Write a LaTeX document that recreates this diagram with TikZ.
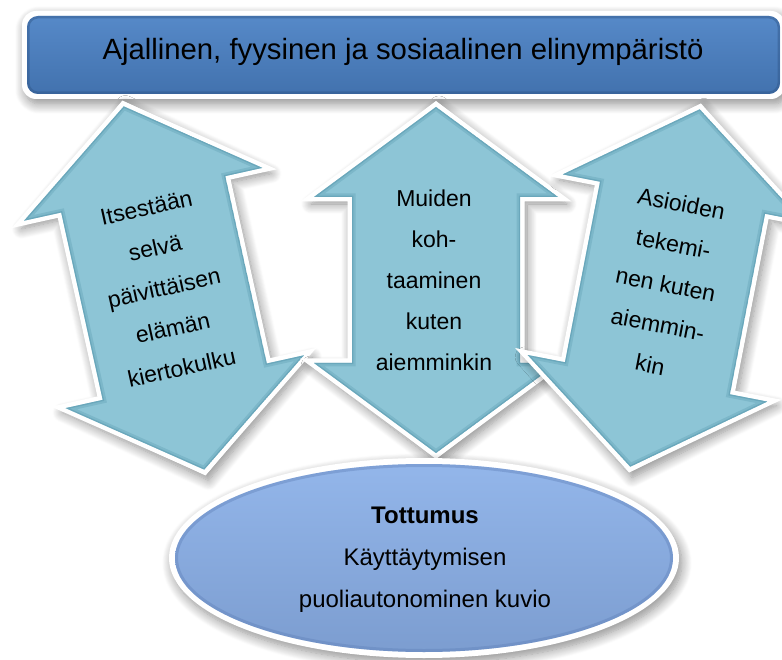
\documentclass[tikz,border=0pt]{standalone}
\usepackage{fontspec}
\setmainfont{Liberation Sans}
\usetikzlibrary{shapes.geometric,shadows.blur}

\definecolor{barfill}{HTML}{4F81BD}
\definecolor{bartop}{HTML}{5689C8}
\definecolor{barbot}{HTML}{4272AE}
\definecolor{baredge}{HTML}{2F5587}
\definecolor{arrowfill}{HTML}{8DC5D6}
\definecolor{arrowedge}{HTML}{5E9DB2}
\definecolor{ellfill}{HTML}{86A8DB}
\definecolor{elltop}{HTML}{93B6EA}
\definecolor{ellbot}{HTML}{7C9DD0}
\definecolor{elledge}{HTML}{5F80B8}

\tikzset{
  softshadow/.style={blur shadow={shadow xshift=3pt, shadow yshift=-5pt,
      shadow blur radius=10pt, shadow blur steps=12, shadow opacity=45}},
  whiteborder/.style={draw=white, line width=9pt, line join=miter},
  arrowtext/.style={font=\fontsize{23}{41}\selectfont, align=center, text=black,
      transform shape},
}

% up-down arrow outline centred on the origin: length #1, head height 90,
% head half-width 122, shaft half-width 84 (y grows downwards)
\newcommand{\updownpath}[1]{%
  (0,-#1/2) -- (122,-#1/2+90) -- (84,-#1/2+90) -- (84,#1/2-90)
  -- (122,#1/2-90) -- (0,#1/2) -- (-122,#1/2-90) -- (-84,#1/2-90)
  -- (-84,-#1/2+90) -- (-122,-#1/2+90) -- cycle}

% slightly enlarged outline, used to cast the shadow of the white rim
\newcommand{\updownrim}[1]{%
  (0,-#1/2-6) -- (128,-#1/2+92) -- (88,-#1/2+92) -- (88,#1/2-92)
  -- (128,#1/2-92) -- (0,#1/2+6) -- (-128,#1/2-92) -- (-88,#1/2-92)
  -- (-88,-#1/2+92) -- (-128,-#1/2+92) -- cycle}

% shadow, white rim, fill and bevelled inner edge of one arrow
\newcommand{\drawupdown}[1]{%
  \fill[white, softshadow] \updownrim{#1};
  \draw[whiteborder] \updownpath{#1};
  \begin{scope}
    \clip \updownpath{#1};
    \fill[arrowfill] \updownpath{#1};
    \draw[arrowedge, line width=7pt, opacity=0.35] \updownpath{#1};
    \draw[arrowedge, line width=2.5pt, opacity=0.6] \updownpath{#1};
  \end{scope}}

\begin{document}
\begin{tikzpicture}[x=1pt, y=-1pt]
  \useasboundingbox (0,0) rectangle (782,660);

  % environment bar
  \fill[white, rounded corners=14pt, softshadow] (22,11) rectangle (785,99);
  \draw[whiteborder, rounded corners=12pt] (27,16) rectangle (780,94);
  \begin{scope}
    \clip[rounded corners=11pt] (27,16) rectangle (780,94);
    \shade[top color=bartop, bottom color=barbot] (27,16) rectangle (780,94);
    \draw[baredge, line width=5pt, opacity=0.45, rounded corners=11pt] (27,16) rectangle (780,94);
  \end{scope}
  \node[font=\fontsize{29.3}{34}\selectfont, text=black] (env) at (403,52)
    {Ajallinen, fyysinen ja sosiaalinen elinympäristö};

  % left arrow
  \begin{scope}[shift={(164,288)}, rotate=12.5]
    \drawupdown{372}
    \node[arrowtext] (rhythm) at (0,0)
      {Itsestään\\selvä\\päivittäisen\\elämän\\kiertokulku};
  \end{scope}

  % middle arrow
  \begin{scope}[shift={(436,280)}]
    \drawupdown{346}
    \node[arrowtext] (meeting) at (-2,0)
      {Muiden\\koh-\\taaminen\\kuten\\aiemminkin};
  \end{scope}

  % right arrow
  \begin{scope}[shift={(665,288)}, rotate=-11]
    \drawupdown{364}
    \node[arrowtext] (doing) at (0,-4)
      {Asioiden\\tekemi-\\nen kuten\\aiemmin-\\kin};
  \end{scope}

  % habit ellipse
  \fill[white, softshadow] (424,558) ellipse [x radius=255, y radius=100];
  \draw[whiteborder] (424,558) ellipse [x radius=249, y radius=94];
  \begin{scope}
    \clip (424,558) ellipse [x radius=249, y radius=94];
    \shade[top color=elltop, bottom color=ellbot] (175,464) rectangle (673,652);
    \draw[elledge, line width=6pt, opacity=0.4] (424,558) ellipse [x radius=249, y radius=94];
  \end{scope}
  \node[font=\fontsize{24}{42}\selectfont, align=center, text=black] (habit) at (425,560)
    {\textbf{Tottumus}\\Käyttäytymisen\\puoliautonominen kuvio};
\end{tikzpicture}
\end{document}
